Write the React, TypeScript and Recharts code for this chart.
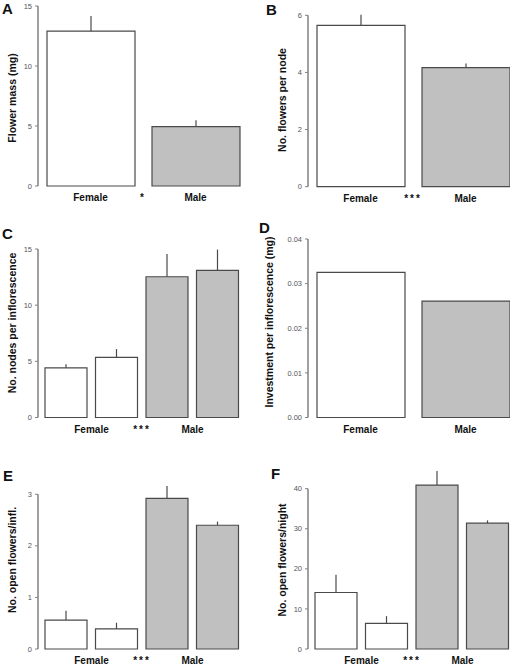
import { BarChart, Bar, XAxis, YAxis, ErrorBar, Cell } from "recharts"

const FONT = '"Liberation Sans", Arial, Helvetica, sans-serif'
const AXIS = "#808080"
const BAR_STROKE = "#4a4a4a"
const MALE_FILL = "#c0c0c0"
const FEMALE_FILL = "#ffffff"

// data
const sexes = ["Female", "Male"]
const sexes4 = ["Female", "Female", "Male", "Male"]

const flowerMass = [12.9, 4.95]
const flowerMassErr = [1.27, 0.52]
const flowersPerNode = [5.65, 4.17]
const flowersPerNodeErr = [0.37, 0.14]
const nodesPerInfl = [4.42, 5.35, 12.53, 13.1]
const nodesPerInflErr = [0.33, 0.74, 2.02, 1.85]
const investmentPerInfl = [0.0325, 0.0261]
const openPerInfl = [0.56, 0.39, 2.92, 2.4]
const openPerInflErr = [0.18, 0.12, 0.24, 0.07]
const openPerNight = [14.1, 6.4, 40.9, 31.4]
const openPerNightErr = [4.4, 1.8, 3.5, 0.7]

const ticksA = [0, 5, 10, 15]
const ticksB = [0, 2, 4, 6]
const ticksC = [0, 5, 10, 15]
const ticksD = [0, 0.01, 0.02, 0.03, 0.04]
const ticksE = [0, 1, 2, 3]
const ticksF = [0, 10, 20, 30, 40]

const columns = [
  { left: 0, plotLeft: 38, plotRight: 248 },
  { left: 255, plotLeft: 308, plotRight: 518 },
]

interface PanelProps {
  letter: string
  letterPos: [number, number]
  title: string
  titlePos: [number, number]
  groups: string[]
  values: number[]
  errs?: number[]
  ticks: number[]
  decimals: number
  domainTop: number
  sig?: string
  col: number
  boxTop: number
  y0: number
  yTop: number
}

function Panel(p: PanelProps) {
  const col = columns[p.col]
  const topTick = p.ticks[p.ticks.length - 1]
  const plotTop = p.y0 - ((p.y0 - p.yTop) * p.domainTop) / topTick
  const xAxisH = 17
  const width = col.plotRight + 2 - col.left
  const height = p.y0 + xAxisH - p.boxTop
  const yAxisW = col.plotLeft - col.left
  const axisBottom = p.y0 - p.boxTop
  const n = p.values.length
  const pad = n === 4 ? { left: 3, right: 5 } : { left: 0, right: 0 }
  const band = (col.plotRight - col.plotLeft - pad.left - pad.right) / n
  const perGroup = n / 2
  const barSize = n === 4 ? 42 : 88

  const data = p.values.map((v, i) => ({
    key: `c${i}`,
    group: p.groups[i],
    value: v,
    err: p.errs ? [0, p.errs[i]] : [0, 0],
  }))

  const renderYTick = (props: any) => {
    const { x, y, payload } = props
    const isTop = payload.value === topTick
    return (
      <g>
        {isTop && <line x1={x} x2={x} y1={y} y2={axisBottom} stroke={AXIS} strokeWidth={1.5} />}
        <line x1={x - 3} x2={x} y1={y} y2={y} stroke={AXIS} strokeWidth={1} />
        <text x={x - 6} y={y} dy="0.35em" textAnchor="end" fontSize={7.5} fill="#555" fontFamily={FONT}>
          {payload.value.toFixed(p.decimals)}
        </text>
      </g>
    )
  }

  const renderXTick = (props: any) => {
    const { x, y, index } = props
    const cx = perGroup === 2 ? x + band / 2 : x
    return (
      <g>
        {index % perGroup === 0 && (
          <text x={cx} y={y + 15} textAnchor="middle" fontSize={10} fontWeight="bold" fill="#111" fontFamily={FONT}>
            {p.groups[index]}
          </text>
        )}
        {p.sig && index === perGroup - 1 && (
          <text x={x + band / 2} y={y + 15} textAnchor="middle" fontSize={10} fontWeight="bold" fill="#111" fontFamily={FONT} letterSpacing={2}>
            {p.sig}
          </text>
        )}
      </g>
    )
  }

  return (
    <>
      <div
        style={{
          position: "absolute",
          left: p.letterPos[0],
          top: p.letterPos[1],
          fontFamily: FONT,
          fontWeight: "bold",
          fontSize: 15,
          lineHeight: "15px",
          color: "#111",
        }}
      >
        {p.letter}
      </div>
      <div
        style={{
          position: "absolute",
          left: p.titlePos[0],
          top: p.titlePos[1],
          transform: "translate(-50%, -50%) rotate(-90deg)",
          whiteSpace: "nowrap",
          fontFamily: FONT,
          fontWeight: "bold",
          fontSize: 10.5,
          lineHeight: "10.5px",
          color: "#111",
        }}
      >
        {p.title}
      </div>
      <div style={{ position: "absolute", left: col.left, top: p.boxTop }}>
        <BarChart
          width={width}
          height={height}
          data={data}
          margin={{ top: plotTop - p.boxTop, right: 2, bottom: 0, left: 0 }}
        >
          <XAxis
            dataKey="key"
            type="category"
            height={xAxisH}
            padding={pad}
            axisLine={false}
            tickLine={false}
            tickSize={0}
            tickMargin={0}
            interval={0}
            tick={renderXTick}
          />
          <YAxis
            type="number"
            width={yAxisW}
            domain={[0, p.domainTop]}
            ticks={p.ticks}
            interval={0}
            axisLine={false}
            tickLine={false}
            tickSize={0}
            tickMargin={0}
            tick={renderYTick}
          />
          <Bar dataKey="value" barSize={barSize} stroke={BAR_STROKE} strokeWidth={1.2} isAnimationActive={false}>
            {data.map((d, i) => (
              <Cell key={i} fill={d.group === "Male" ? MALE_FILL : FEMALE_FILL} />
            ))}
            {p.errs && (
              <ErrorBar dataKey="err" width={0} stroke={BAR_STROKE} strokeWidth={1.2} isAnimationActive={false} />
            )}
          </Bar>
        </BarChart>
      </div>
    </>
  )
}

export default function App() {
  return (
    <div
      style={{
        position: "absolute",
        left: 0,
        top: 0,
        width: 510,
        height: 666,
        overflow: "hidden",
        background: "#fff",
      }}
    >
      <Panel
        letter="A"
        letterPos={[2, 1]}
        title="Flower mass (mg)"
        titlePos={[11.5, 97.5]}
        groups={sexes}
        values={flowerMass}
        errs={flowerMassErr}
        ticks={ticksA}
        decimals={0}
        domainTop={15}
        sig="*"
        col={0}
        boxTop={0}
        y0={186}
        yTop={6}
      />
      <Panel
        letter="B"
        letterPos={[266, 2]}
        title="No. flowers per node"
        titlePos={[281.5, 100]}
        groups={sexes}
        values={flowersPerNode}
        errs={flowersPerNodeErr}
        ticks={ticksB}
        decimals={0}
        domainTop={6.2}
        sig="***"
        col={1}
        boxTop={0}
        y0={186.7}
        yTop={15.3}
      />
      <Panel
        letter="C"
        letterPos={[2, 226]}
        title="No. nodes per inflorescence"
        titlePos={[11.5, 323]}
        groups={sexes4}
        values={nodesPerInfl}
        errs={nodesPerInflErr}
        ticks={ticksC}
        decimals={0}
        domainTop={15.5}
        sig="***"
        col={0}
        boxTop={215}
        y0={417.5}
        yTop={249}
      />
      <Panel
        letter="D"
        letterPos={[259, 220]}
        title="Investment per inflorescence (mg)"
        titlePos={[269, 322]}
        groups={sexes}
        values={investmentPerInfl}
        ticks={ticksD}
        decimals={2}
        domainTop={0.04}
        col={1}
        boxTop={215}
        y0={417.5}
        yTop={239}
      />
      <Panel
        letter="E"
        letterPos={[3, 468]}
        title="No. open flowers/infl."
        titlePos={[11.5, 560]}
        groups={sexes4}
        values={openPerInfl}
        errs={openPerInflErr}
        ticks={ticksE}
        decimals={0}
        domainTop={3.3}
        sig="***"
        col={0}
        boxTop={440}
        y0={649}
        yTop={494.3}
      />
      <Panel
        letter="F"
        letterPos={[271, 466]}
        title="No. open flowers/night"
        titlePos={[282, 560]}
        groups={sexes4}
        values={openPerNight}
        errs={openPerNightErr}
        ticks={ticksF}
        decimals={0}
        domainTop={45}
        sig="***"
        col={1}
        boxTop={440}
        y0={649}
        yTop={488.7}
      />
    </div>
  )
}
